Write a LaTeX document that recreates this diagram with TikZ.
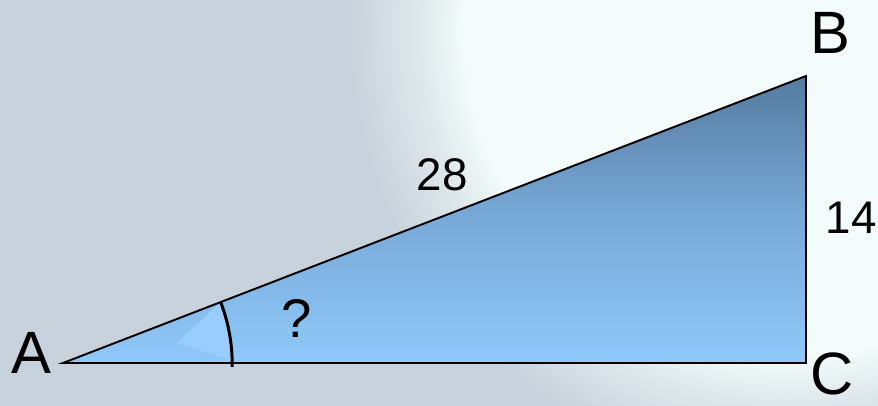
\documentclass[tikz,border=0pt]{standalone}
\usepackage{fontspec}
\setmainfont{Liberation Sans}
\usetikzlibrary{calc}

\definecolor{bgblue}{HTML}{C8D2DC}
\definecolor{glowwhite}{HTML}{F3FCFA}
\definecolor{tritop}{HTML}{557BA0}
\definecolor{trimid}{HTML}{78AAD9}
\definecolor{tribottom}{HTML}{8FC9F9}
\definecolor{wedgeblue}{HTML}{99CCFF}
\pgfdeclareradialshading{glow}{\pgfpoint{0bp}{0bp}}{color(0bp)=(glowwhite); color(15.5bp)=(glowwhite); color(17.5bp)=(glowwhite!55!bgblue); color(21bp)=(bgblue); color(50bp)=(bgblue)}

\begin{document}
\begin{tikzpicture}
        \tikzset{vertex/.style={font=\fontsize{34}{40}\selectfont, inner sep=0pt},
                 side/.style={font=\fontsize{26}{30}\selectfont, inner sep=0pt},
                 edge/.style={line width=1.1pt, line join=miter},
                 anglearc/.style={line width=1.7pt}}
        % background
        \useasboundingbox (0,0) rectangle (17.56,8.12);
        \begin{scope}
            \clip (0,0) rectangle (17.56,8.12);
            \fill[bgblue] (0,0) rectangle (17.56,8.12);
            \shade[shading=glow] (15.8,7.5) circle (10.5);
        \end{scope}

        % corners
        \coordinate (A) at (1.26,0.86);
        \coordinate (B) at (16.12,6.60);
        \coordinate (C) at (16.12,0.86);
        \coordinate (arctop) at ($(A)!3.38cm!(B)$);

        \shade[top color=tritop, bottom color=tribottom, middle color=trimid] (A) -- (B) -- (C) -- cycle;
        \fill[wedgeblue] (3.54,1.26) -- (arctop) arc [start angle=21.12, end angle=1, radius=3.4cm] -- cycle;
        \draw[anglearc] (arctop) arc [start angle=21.12, end angle=-1, radius=3.43cm];
        \draw[edge] (A) -- (B) -- (C) -- cycle;

        % labels
        \node[vertex] (lblA) at (0.62,1.06) {A};
        \node[vertex] (lblB) at (16.6,7.46) {B};
        \node[vertex] (lblC) at (16.64,0.64) {C};
        \node[side] (lblAB) at (8.84,4.62) {28};
        \node[side] (lblBC) at (17.02,3.76) {14};
        \node[font=\fontsize{31}{36}\selectfont, inner sep=0pt] (lblang) at (5.94,1.76) {?};
\end{tikzpicture}
\end{document}
